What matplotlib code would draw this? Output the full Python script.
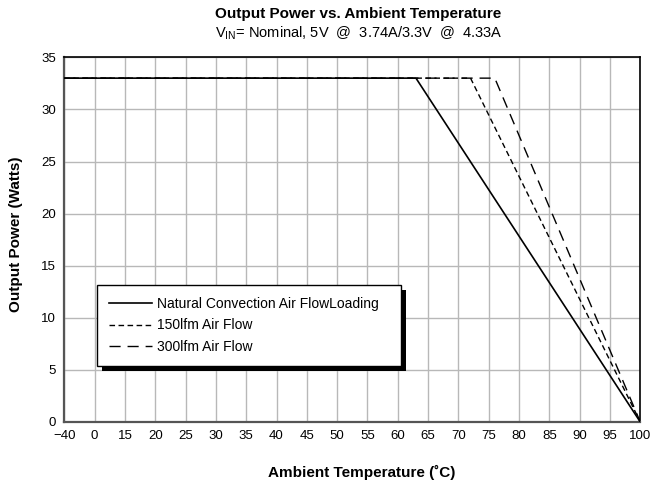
import numpy as np
import matplotlib.pyplot as plt
from matplotlib.patches import Rectangle
from matplotlib.transforms import IdentityTransform

plt.rcParams['font.family'] = ['Liberation Sans', 'DejaVu Sans']
plt.rcParams['mathtext.fontset'] = 'custom'
plt.rcParams['mathtext.rm'] = 'Liberation Sans'

# tick temperatures (axis is evenly spaced per tick, not linear)
tick_temps = [-40, 0] + list(range(15, 101, 5))
tick_labels = ['\u221240'] + [str(t) for t in tick_temps[1:]]

# derating curves (temperature in C, power in W)
natural_t = [-40, 63, 100]
natural_p = [33, 33, 0]
lfm150_t = [-40, 72, 100]
lfm150_p = [33, 33, 0]
lfm300_t = [-40, 76, 100]
lfm300_p = [33, 33, 0]

idx = np.arange(len(tick_temps))


def fwd(t):
    return np.interp(t, tick_temps, idx)


def inv(i):
    return np.interp(i, idx, tick_temps)


W, H = 652, 480
L, R, T, B = 64.3, 640.3, 57.3, 422
fig = plt.figure(figsize=(W / 100, H / 100), dpi=100)
ax = fig.add_axes([L / W, 1 - B / H, (R - L) / W, (B - T) / H])
ax.set_xscale('function', functions=(fwd, inv))

ax.plot(lfm300_t, lfm300_p, color='black', lw=1.0, ls=(0, (8, 5)), label='300lfm Air Flow', zorder=3)
ax.plot(lfm150_t, lfm150_p, color='black', lw=1.0, ls=(0, (4, 2.5)), label='150lfm Air Flow', zorder=3)
ax.plot(natural_t, natural_p, color='black', lw=1.2, label='Natural Convection Air FlowLoading', zorder=4)

ax.set_xlim(-40, 100)
ax.set_ylim(0, 35)
ax.set_xticks(tick_temps)
ax.set_xticklabels(tick_labels)
ax.xaxis.set_minor_locator(plt.NullLocator())
ax.set_yticks(range(0, 36, 5))
ax.tick_params(length=0, labelsize=9.5, pad=6)
ax.grid(True, color='#b8b8b8', lw=1.0)
ax.set_axisbelow(True)
for s in ax.spines.values():
    s.set_linewidth(1.2)
ax.spines['bottom'].set_color('#555555')
ax.spines['left'].set_color('#555555')
ax.spines['bottom'].set_linewidth(1.6)
ax.spines['left'].set_linewidth(1.6)

xl = ax.set_xlabel('Ambient Temperature (\u02daC)', fontsize=11, fontweight='bold')
xl.set_va('center')
ax.set_ylabel('Output Power (Watts)', fontsize=11, fontweight='bold')
ax.yaxis.set_label_coords(-(L - 23) / (R - L), (B - 234) / (B - T))
ax.xaxis.set_label_coords((362 - L) / (R - L), -(472 - B) / (B - T))

fig.text(358.5 / W, 1 - 14 / H, 'Output Power vs. Ambient Temperature', ha='center', va='center',
         fontsize=11, fontweight='bold')
fig.text(359 / W, 1 - 33 / H, r'V$_{\mathrm{IN}}$= Nominal, 5V  @  3.74A/3.3V  @  4.33A', ha='center',
         va='center', fontsize=10.5)

h, l = ax.get_legend_handles_labels()
order = [2, 1, 0]
lx0, ly0, lx1 = 97.3, 285, 400.7
leg = ax.legend([h[i] for i in order], [l[i] for i in order], loc='upper left',
                bbox_to_anchor=((lx0 - L) / (R - L), (B - ly0) / (B - T), (lx1 - lx0) / (R - L), 0.0),
                mode='expand',
                fancybox=False, framealpha=1, edgecolor='black', fontsize=10,
                handlelength=3.1, handletextpad=0.35, borderpad=0.85, labelspacing=0.55,
                borderaxespad=0)
leg.get_frame().set_linewidth(1.0)
leg.set_zorder(6)

fig.canvas.draw()
bb = leg.get_window_extent()
shadow = Rectangle((bb.x0 + 5, bb.y0 - 5), bb.width, bb.height, transform=IdentityTransform(),
                   facecolor='black', edgecolor='none', zorder=5, clip_on=False)
ax.add_artist(shadow)

fig.savefig('out.png', dpi=100)
